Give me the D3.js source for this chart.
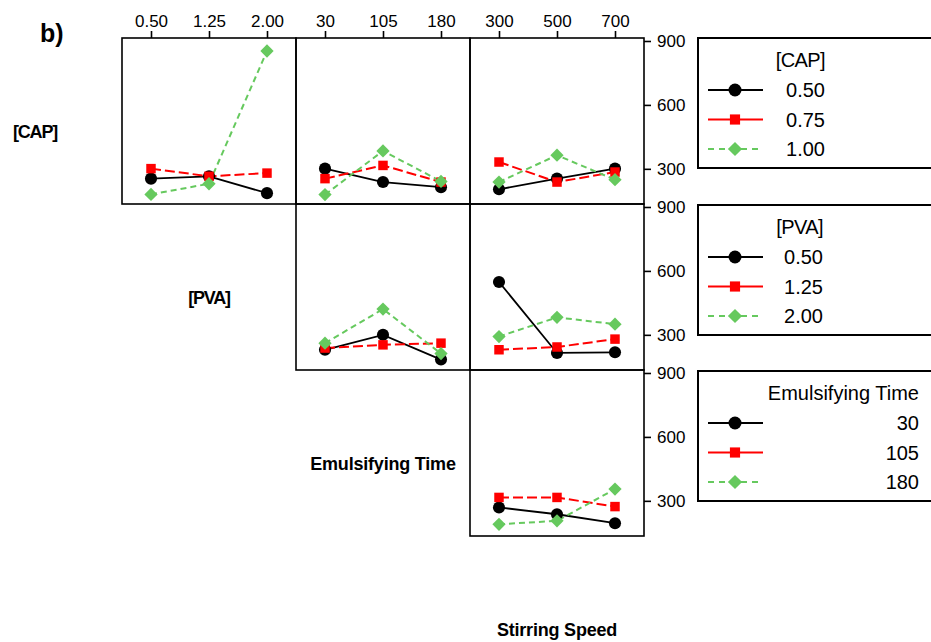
<!DOCTYPE html>
<html>
<head>
<meta charset="utf-8">
<script src="https://cdn.jsdelivr.net/npm/d3@7"></script>
<style>
  body { margin: 0; background: #fff; }
  svg { font-family: "Liberation Sans", Arial, sans-serif; }
</style>
</head>
<body>
<div id="canvas"></div>
<script>
/* Factors and their levels */
const FACTORS = ["[CAP]", "[PVA]", "Emulsifying Time", "Stirring Speed"]
const CAP_LEVELS = ["0.50", "0.75", "1.00"]
const PVA_LEVELS = ["0.50", "1.25", "2.00"]
const TIME_LEVELS = ["30", "105", "180"]
const SPEED_LEVELS = ["300", "500", "700"]
const Y_TICKS = [300, 600, 900]

/* Mean responses, one array per trace level: [row][col][trace][x] */
// row CAP, col PVA
const CAP_BY_PVA = [[254, 265, 186], [301, 265, 280], [180, 230, 853]]
// row CAP, col Emulsifying Time
const CAP_BY_TIME = [[301, 238, 214], [254, 316, 238], [179, 384, 241]]
// row CAP, col Stirring Speed
const CAP_BY_SPEED = [[204, 254, 301], [332, 238, 285], [238, 364, 249]]
// row PVA, col Emulsifying Time
const PVA_BY_TIME = [[230, 300, 184], [238, 253, 261], [261, 421, 212]]
// row PVA, col Stirring Speed
const PVA_BY_SPEED = [[548, 215, 218], [230, 243, 280], [292, 382, 350]]
// row Emulsifying Time, col Stirring Speed
const TIME_BY_SPEED = [[269, 237, 195], [316, 316, 273], [190, 206, 355]]

/* Layout */
const WIDTH = 931
const HEIGHT = 642
const LEFT = 122
const TOP = 38
const CELL_W = 174
const CELL_H = 166
const COLORS = ["#000000", "#FF0000", "#66C95E"]
const DASHES = [null, "10,4", "6,4"]
const LINE_W = [1.8, 2, 2]
const TICK_FONT = 17
const LEGEND_FONT = 20
const LEGEND = {"X": 698, "W": 300, "H": 130, "RIGHT": [825, 823, 919]}

const svg = d3.select("#canvas").append("svg")
  .attr("width", WIDTH).attr("height", HEIGHT);

const levelsOf = [CAP_LEVELS, PVA_LEVELS, TIME_LEVELS, SPEED_LEVELS];
const panels = [
  {row: 0, col: 1, data: CAP_BY_PVA},
  {row: 0, col: 2, data: CAP_BY_TIME},
  {row: 0, col: 3, data: CAP_BY_SPEED},
  {row: 1, col: 2, data: PVA_BY_TIME},
  {row: 1, col: 3, data: PVA_BY_SPEED},
  {row: 2, col: 3, data: TIME_BY_SPEED}
];

const y = d3.scaleLinear().domain([135, 914]).range([CELL_H, 0]);

// square-ish diamond (rotated square)
const squareDiamond = {
  draw(context, size) {
    const r = Math.sqrt(size / 2);
    context.moveTo(0, -r);
    context.lineTo(r, 0);
    context.lineTo(0, r);
    context.lineTo(-r, 0);
    context.closePath();
  }
};
const symbolFor = [d3.symbolCircle, d3.symbolSquare, squareDiamond];
const symbolSize = [115, 90, 88];

function drawMarker(g, i, cx, cy, k) {
  g.append("path")
    .attr("d", d3.symbol().type(symbolFor[i]).size(symbolSize[i] * (k || 1))())
    .attr("transform", "translate(" + cx + "," + cy + ")")
    .attr("fill", COLORS[i]);
}

function styleTicks(ax) {
  ax.select(".domain").remove();
  ax.selectAll("line").attr("stroke-width", 1.6);
  ax.selectAll("text").attr("font-size", TICK_FONT).attr("fill", "#000")
    .attr("font-family", "Liberation Sans, Arial, sans-serif");
}

panels.forEach((p) => {
  const x0 = LEFT + (p.col - 1) * CELL_W;
  const y0 = TOP + p.row * CELL_H;
  const levels = levelsOf[p.col];
  const x = d3.scalePoint().domain(levels).range([0, CELL_W]).padding(0.5);
  const g = svg.append("g").attr("transform", "translate(" + x0 + "," + y0 + ")");

  // traces
  p.data.forEach((vals, i) => {
    const line = d3.line().x((d, j) => x(levels[j])).y((d) => y(d));
    g.append("path")
      .attr("d", line(vals))
      .attr("fill", "none")
      .attr("stroke", COLORS[i])
      .attr("stroke-width", LINE_W[i])
      .attr("stroke-dasharray", DASHES[i]);
  });
  p.data.forEach((vals, i) => {
    vals.forEach((v, j) => drawMarker(g, i, x(levels[j]), y(v)));
  });

  g.append("rect")
    .attr("width", CELL_W).attr("height", CELL_H)
    .attr("fill", "none").attr("stroke", "#000").attr("stroke-width", 1.6);

  // top axis on first row
  if (p.row === 0) {
    styleTicks(g.append("g").call(d3.axisTop(x).tickSize(7).tickPadding(4)));
  }
  // right axis on last column
  if (p.col === 3) {
    styleTicks(g.append("g").attr("transform", "translate(" + CELL_W + ",0)")
      .call(d3.axisRight(y).tickValues(Y_TICKS).tickSize(7).tickPadding(6)));
  }
});

/* Diagonal factor labels */
FACTORS.forEach((f, k) => {
  svg.append("text")
    .attr("x", LEFT + (k - 0.5) * CELL_W)
    .attr("y", TOP + (k + 0.5) * CELL_H + 17)
    .attr("text-anchor", "middle")
    .attr("font-size", 18)
    .attr("font-weight", "bold")
    .attr("letter-spacing", k < 2 ? -1.2 : -0.2)
    .text(f);
});

svg.append("text")
  .attr("x", 40).attr("y", 42)
  .attr("font-size", 25).attr("font-weight", "bold")
  .text("b)");

/* Legends */
const legendTitles = [FACTORS[0], FACTORS[1], FACTORS[2]];
const legendLevels = [CAP_LEVELS, PVA_LEVELS, TIME_LEVELS];
legendTitles.forEach((t, k) => {
  const ly = TOP + k * CELL_H + (k === 0 ? 0 : 1);
  const g = svg.append("g").attr("transform", "translate(" + LEGEND.X + "," + ly + ")");
  g.append("rect").attr("width", LEGEND.W).attr("height", LEGEND.H)
    .attr("fill", "none").attr("stroke", "#000").attr("stroke-width", 2);
  const right = LEGEND.RIGHT[k] - LEGEND.X;
  g.append("text").attr("x", right).attr("y", 29)
    .attr("text-anchor", "end").attr("font-size", LEGEND_FONT)
    .attr("letter-spacing", k < 2 ? -0.6 : 0).text(t);
  legendLevels[k].forEach((lv, i) => {
    const ry = 52 + i * 29.5;
    g.append("line").attr("x1", 10).attr("x2", 65).attr("y1", ry).attr("y2", ry)
      .attr("stroke", COLORS[i]).attr("stroke-width", LINE_W[i])
      .attr("stroke-dasharray", i === 2 ? "6,5" : null);
    drawMarker(g, i, 37, ry, 1.15);
    g.append("text").attr("x", right).attr("y", ry + 7)
      .attr("text-anchor", "end").attr("font-size", LEGEND_FONT).text(lv);
  });
});
</script>
</body>
</html>
